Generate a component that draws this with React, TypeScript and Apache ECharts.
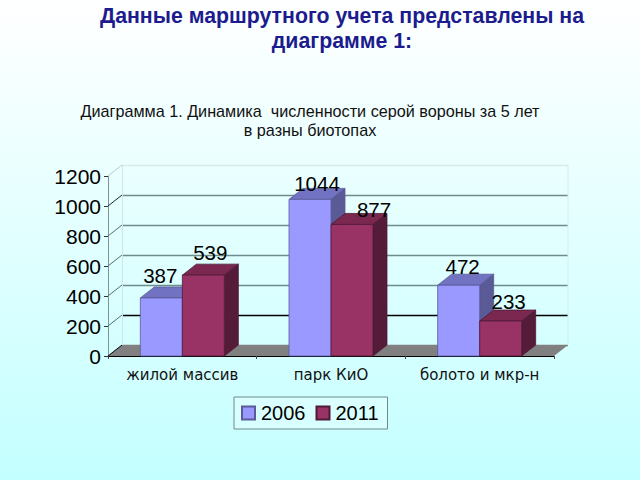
import React, { useEffect, useRef } from "react";
import * as echarts from "echarts";

const pageTitle = "Данные маршрутного учета представлены на\nдиаграмме 1:";
const chartTitle = "Диаграмма 1. Динамика  численности серой вороны за 5 лет\nв разны биотопах";
const categories = ["жилой массив", "парк КиО", "болото и мкр-н"];
const seriesNames = ["2006", "2011"];
const values2006 = [387, 1044, 472];
const values2011 = [539, 877, 233];
const yTicksMax = 1200;
const yTickStep = 200;

const DEPTH_X = 14;
const DEPTH_Y = 11;
const FRONT = { left: 108, top: 176, width: 446, height: 180 };
const labelNudge2006 = [-1, 7, 4];
const labelNudge2011 = [7, 22, 8];
const labelRise2006 = [22, 16, 19];
const labelRise2011 = [23, 15, 20];

const palette = [
  { front: "#9999ff", top: "#7272c2", side: "#5a5a96", edge: "#5b5b99" },
  { front: "#993366", top: "#7a2850", side: "#551c3a", edge: "#4f1a36" },
];

function bar3d(seriesIndex: number, nudges: number[], rises: number[]) {
  return (params: any, api: any) => {
    const cat = api.value(0);
    const val = api.value(1);
    const top = api.coord([cat, val]);
    const base = api.coord([cat, 0]);
    const catW = api.size([1, 0])[0];
    const w = catW * 0.2825;
    const x0 = top[0] + (seriesIndex === 0 ? -w : 0);
    const x1 = x0 + w;
    const c = palette[seriesIndex];
    const lw = 0.8;
    return {
      type: "group",
      children: [
        {
          type: "polygon",
          shape: { points: [[x0, top[1]], [x0 + DEPTH_X, top[1] - DEPTH_Y], [x1 + DEPTH_X, top[1] - DEPTH_Y], [x1, top[1]]] },
          style: { fill: c.top, stroke: c.edge, lineWidth: lw },
        },
        {
          type: "polygon",
          shape: { points: [[x1, top[1]], [x1 + DEPTH_X, top[1] - DEPTH_Y], [x1 + DEPTH_X, base[1] - DEPTH_Y], [x1, base[1]]] },
          style: { fill: c.side, stroke: c.edge, lineWidth: lw },
        },
        {
          type: "rect",
          shape: { x: x0, y: top[1], width: w, height: base[1] - top[1] },
          style: { fill: c.front, stroke: c.edge, lineWidth: lw },
        },
        {
          type: "text",
          z2: 50,
          style: {
            text: String(val),
            x: (x0 + x1) / 2 + nudges[params.dataIndex],
            y: top[1] - rises[params.dataIndex],
            align: "center",
            verticalAlign: "middle",
            fill: "#000",
            font: '20.5px "Liberation Sans", Arial, sans-serif',
          },
        },
      ],
    };
  };
}

const wallTickLines = Array.from({ length: yTicksMax / yTickStep + 1 }, (_, i) => {
  const y = FRONT.top + FRONT.height - (FRONT.height * i * yTickStep) / yTicksMax;
  return {
    type: "line",
    silent: true,
    z: 1,
    shape: { x1: FRONT.left, y1: y, x2: FRONT.left + DEPTH_X, y2: y - DEPTH_Y },
    style: { stroke: i === 0 ? "#000" : i === 6 ? "#b5cccc" : i === 5 ? "#223" : "#55706f", lineWidth: 1 },
  };
});

export default function App() {
  const ref = useRef<HTMLDivElement>(null);
  useEffect(() => {
    const chart = echarts.init(ref.current!, undefined, { renderer: "svg" });
    const b = FRONT.top + FRONT.height;
    const r = FRONT.left + FRONT.width;
    chart.setOption({
      animation: false,
      backgroundColor: new echarts.graphic.LinearGradient(0, 0, 0, 1, [
        { offset: 0, color: "#ffffff" },
        { offset: 1, color: "#c4ffff" },
      ]),
      title: [
        {
          text: pageTitle,
          left: 337,
          top: -2,
          textAlign: "center",
          textStyle: { fontFamily: '"Liberation Sans", Arial, sans-serif', fontSize: 21.3, fontWeight: "bold", color: "#1c1c8e", lineHeight: 25 },
        },
        {
          text: chartTitle,
          left: 305,
          top: 96,
          textAlign: "center",
          textStyle: { fontFamily: '"Liberation Sans", Arial, sans-serif', fontSize: 16.2, fontWeight: "normal", color: "#111", lineHeight: 19 },
        },
      ],
      legend: {
        left: 234,
        top: 397,
        data: seriesNames,
        orient: "horizontal",
        padding: [6, 9, 6, 7],
        itemGap: 10,
        itemWidth: 13,
        itemHeight: 13,
        borderColor: "#6f8a8a",
        borderWidth: 1,
        backgroundColor: "rgba(255,255,255,0.25)",
        icon: "rect",
        textStyle: { fontFamily: '"Liberation Sans", Arial, sans-serif', fontSize: 20, color: "#000", padding: [0, 0, 0, 1] },
      },
      grid: [
        { left: FRONT.left, top: FRONT.top, width: FRONT.width, height: FRONT.height },
        { left: FRONT.left + DEPTH_X, top: FRONT.top - DEPTH_Y, width: FRONT.width, height: FRONT.height },
      ],
      xAxis: [
        {
          type: "category",
          gridIndex: 0,
          data: categories,
          axisLine: { lineStyle: { color: "#000", width: 1.2 } },
          axisTick: { show: true, length: 3, alignWithLabel: false, lineStyle: { color: "#444" } },
          axisLabel: { interval: 0, fontFamily: '"DejaVu Sans", sans-serif', fontSize: 15, color: "#111", margin: 11 },
          z: 3,
        },
        {
          type: "category",
          gridIndex: 1,
          data: categories,
          axisLine: { show: false },
          axisTick: { show: false },
          axisLabel: { show: false },
        },
      ],
      yAxis: [
        {
          type: "value",
          gridIndex: 0,
          min: 0,
          max: yTicksMax,
          interval: yTickStep,
          axisLine: { show: true, lineStyle: { color: "#7d9494", width: 1 } },
          axisTick: { show: true, length: 4, lineStyle: { color: "#333" } },
          axisLabel: {
            fontFamily: '"Liberation Sans", Arial, sans-serif',
            fontSize: 21,
            color: "#000",
            margin: 7,
            padding: [5, 0, 0, 0],
            formatter: (v: number) => String(v),
          },
          splitLine: { show: false },
        },
        {
          type: "value",
          gridIndex: 1,
          min: 0,
          max: yTicksMax,
          interval: yTickStep,
          axisLine: { show: true, lineStyle: { color: "#cfe6e6", width: 1 } },
          axisTick: { show: false },
          axisLabel: { show: false },
          splitLine: {
            show: true,
            lineStyle: { color: ["#808080", "#000000", "#6f8c8c", "#6f8c8c", "#6f8c8c", "#6f8c8c", "#d5ecec"], width: 1.3 },
          },
        },
      ],
      graphic: [
        {
          type: "polygon",
          silent: true,
          z: 1,
          shape: { points: [[FRONT.left, b], [FRONT.left + DEPTH_X, b - DEPTH_Y], [r + DEPTH_X, b - DEPTH_Y], [r, b]] },
          style: { fill: "#808080" },
        },
        {
          type: "line",
          silent: true,
          z: 1,
          shape: { x1: r + DEPTH_X, y1: FRONT.top - DEPTH_Y, x2: r + DEPTH_X, y2: b - DEPTH_Y },
          style: { stroke: "#d5ecec", lineWidth: 1 },
        },
        ...wallTickLines,
      ],
      series: [
        {
          name: seriesNames[0],
          type: "custom",
          xAxisIndex: 0,
          yAxisIndex: 0,
          z: 5,
          itemStyle: { color: palette[0].front, borderColor: "#5b5b99", borderWidth: 0.8 },
          encode: { x: 0, y: 1 },
          data: values2006.map((v, i) => [i, v]),
          renderItem: bar3d(0, labelNudge2006, labelRise2006),
        },
        {
          name: seriesNames[1],
          type: "custom",
          xAxisIndex: 0,
          yAxisIndex: 0,
          z: 6,
          itemStyle: { color: palette[1].front, borderColor: "#4f1a36", borderWidth: 0.8 },
          encode: { x: 0, y: 1 },
          data: values2011.map((v, i) => [i, v]),
          renderItem: bar3d(1, labelNudge2011, labelRise2011),
        },
      ],
    });
    return () => chart.dispose();
  }, []);
  return <div ref={ref} style={{ position: "fixed", left: 0, top: 0, width: 640, height: 480 }} />;
}
